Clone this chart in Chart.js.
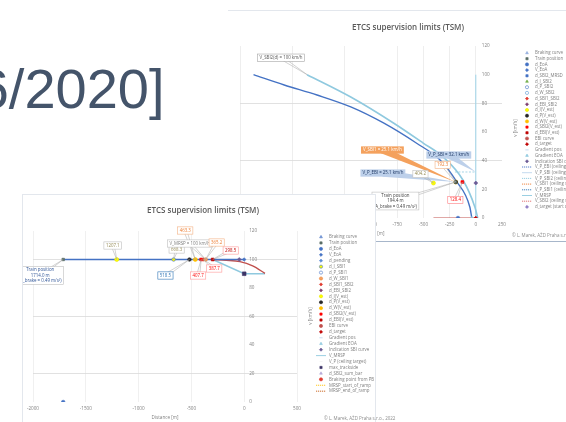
<!DOCTYPE html>
<html>
<head>
<meta charset="utf-8">
<title>ETCS supervision limits (TSM)</title>
<script src="https://cdn.jsdelivr.net/npm/chart.js"></script>
<style>
  html, body { margin: 0; padding: 0; }
  body { width: 566px; height: 422px; overflow: hidden; position: relative; background: #fff; font-family: "Liberation Sans", Arial, sans-serif; }
  #heading { position: absolute; left: -69px; top: 61px; font-size: 56px; line-height: 56px; color: #44546A; white-space: nowrap; }
  .panel { position: absolute; background: #fff; }
  #backPanel { left: 228px; top: 10px; width: 380px; height: 230px; border-top: 1px solid #E3E7ED; border-bottom: 1px solid #A7B6CA; }
  #frontPanel { left: 22px; top: 194px; width: 352px; height: 230px; border: 1px solid #E3E7ED; }
  .copy { position: absolute; font: 4.5px "Open Sans", sans-serif; color: #8C8C8C; white-space: nowrap; }
</style>
</head>
<body>
<div id="heading">[06/2020]</div>
<div class="panel" id="backPanel"><canvas id="backChart"></canvas></div>
<div class="copy" style="left:512px;top:232px">© L. Marek, AŽD Praha s.r.o., 2022</div>
<div class="panel" id="frontPanel"><canvas id="frontChart"></canvas></div>
<div class="copy" style="left:324px;top:415px">© L. Marek, AŽD Praha s.r.o., 2022</div>
<script>
// ---------- front chart: train at 1714 m before EoA, 100 km/h ----------
const frontProfileX = [-1714.0, 0];
const frontProfileV = [100, 100];
const frontEbiX = [-298.5, -170, -40, 80, 197];
const frontEbiV = [100, 99.5, 98.5, 95.5, 90.3];
const frontSbiX = [-298.5, 0, 197];
const frontSbiV = [100, 90, 90];
const frontMarkSeries = ['Train position', 'd_EoA', 'd_I(V_est)', 'd_I_SBI1', 'd_P(V_est)', 'd_W(V_est)', 'd_SBI2(V_est)', 'd_SBI1_SBI2', 'd_W_SBI1', 'd_EBI(V_est)', 'Indication SBI curve', 'V_EoA', 'max_trackside'];
const frontMarkX = [-1714.0, -1714.0, -1207.1, -668.3, -518.5, -463.3, -407.7, -387.7, -365.2, -298.5, -47, 0, 0];
const frontMarkV = [100, 0, 100, 100, 100, 100, 100, 100, 100, 100, 100, 100, 90];
const frontLegend = ['Braking curve', 'Train position', 'd_EoA', 'V_EoA', 'd_pending', 'd_I_SBI1', 'd_P_SBI1', 'd_W_SBI1', 'd_SBI1_SBI2', 'd_EBI_SBI2', 'd_I(V_est)', 'd_P(V_est)', 'd_W(V_est)', 'd_SBI2(V_est)', 'd_EBI(V_est)', 'EBI curve', 'd_target', 'Gradient pos', 'Gradient EOA', 'Indication SBI curve', 'V_MRSP', 'V_P (ceiling target)', 'max_trackside', 'd_SBI2_sum_bar', 'Braking point from PB', 'MRSP_start_of_ramp', 'MRSP_end_of_ramp'];

// ---------- back chart: train at 194.4 m before EoA, braking ----------
const backEbiX = [-2121, -1828, -1515, -1193, -881, -568, -341, -189, -57, -38];
const backEbiV = [100, 92.8, 85.8, 77.5, 66.3, 52.3, 40.5, 26.0, 7.7, 0];
const backSbiX = [-1610, -1193, -786, -502, -313, -123, -9, 19];
const backSbiV = [100, 84.4, 66.3, 52.3, 42.6, 26.5, 7.7, 0];
const backMrspX = [0, 0];
const backMrspV = [0, 100];
const backPermX = [-199, 0];
const backPermV = [32.1, 32.1];
const backTargetX = [-404.2, 0];
const backTargetV = [0, 0];
const backMarkSeries = ['d_I(V_est)', 'Train position', 'd_P(V_est)', 'd_W(V_est)', 'd_SBI2(V_est)', 'Indication SBI curve', 'd_EoA', 'Gradient EOA', 'd_target'];
const backMarkX = [-404.2, -194.4, -190, -192.3, -128.4, 0, -170, -38, 0];
const backMarkV = [24.4, 25.1, 25.1, 25.1, 25.1, 24.4, 0, 0, 0];
const backLegend = ['Braking curve', 'Train position', 'd_EoA', 'V_EoA', 'd_SBI2_MRSD', 'd_I_SBI2', 'd_P_SBI2', 'd_W_SBI2', 'd_SBI1_SBI2', 'd_EBI_SBI2', 'd_I(V_est)', 'd_P(V_est)', 'd_W(V_est)', 'd_SBI2(V_est)', 'd_EBI(V_est)', 'EBI curve', 'd_target', 'Gradient pos', 'Gradient EOA', 'Indication SBI curve', 'V_P_EBI (ceiling speed)', 'V_P_SBI (ceiling speed)', 'V_P_SBI2 (ceiling speed)', 'V_SBI1 (ceiling speed)', 'V_P_SBI1 (ceiling speed)', 'V_MRSP', 'V_SBI2 (ceiling speed)', 'd_target (start of ramp)'];

// marker / line look for every series name
const look = {
  'Braking curve': { pointStyle: 'triangle', color: '#8FAADC', r: 1.2 },
  'Train position': { pointStyle: 'rect', color: '#5B6E66', r: 1.8 },
  'd_EoA': { pointStyle: 'circle', color: '#4472C4', r: 1.8 },
  'V_EoA': { pointStyle: 'rectRot', color: '#4472C4', r: 1.8 },
  'd_pending': { pointStyle: 'rectRot', color: '#5B8BD6', r: 1.6 },
  'd_SBI2_MRSD': { pointStyle: 'rect', color: '#4472C4', r: 1.6 },
  'd_I_SBI1': { pointStyle: 'circle', color: '#FFFF00', border: '#4472C4', r: 1.8 },
  'd_I_SBI2': { pointStyle: 'triangle', color: '#70AD47', r: 1.6 },
  'd_P_SBI1': { pointStyle: 'circle', color: '#fff', border: '#4472C4', r: 1.6 },
  'd_P_SBI2': { pointStyle: 'circle', color: '#fff', border: '#4472C4', r: 1.6 },
  'd_W_SBI1': { pointStyle: 'circle', color: '#F4A460', border: '#ED7D31', r: 1.8 },
  'd_W_SBI2': { pointStyle: 'circle', color: '#fff', border: '#5B9BD5', r: 1.6 },
  'd_SBI1_SBI2': { pointStyle: 'rectRot', color: '#E03C31', r: 1.8 },
  'd_EBI_SBI2': { pointStyle: 'rectRot', color: '#7F3F6F', r: 1.6 },
  'd_I(V_est)': { pointStyle: 'circle', color: '#FFFF00', border: '#E6E600', r: 2 },
  'd_P(V_est)': { pointStyle: 'circle', color: '#262626', r: 1.8 },
  'd_W(V_est)': { pointStyle: 'circle', color: '#FFC000', r: 2 },
  'd_SBI2(V_est)': { pointStyle: 'rect', color: '#FF0000', r: 2 },
  'd_EBI(V_est)': { pointStyle: 'rect', color: '#C00000', r: 2 },
  'EBI curve': { pointStyle: 'circle', color: '#C0504D', r: 0.6 },
  'd_target': { pointStyle: 'rectRot', color: '#C00000', r: 1.8 },
  'Gradient pos': { pointStyle: 'line', color: '#9DC3E6', r: 1.8 },
  'Gradient EOA': { pointStyle: 'triangle', color: '#8FC9DF', r: 1.6 },
  'Indication SBI curve': { pointStyle: 'rectRot', color: '#6B5B95', r: 2 },
  'V_MRSP': { line: '#8FC9DF' },
  'V_P (ceiling target)': { pointStyle: 'line', color: '#F2F2F2', r: 1.8 },
  'max_trackside': { pointStyle: 'rect', color: '#3D3466', r: 2.6 },
  'd_SBI2_sum_bar': { pointStyle: 'triangle', color: '#B4A7D6', r: 1.6 },
  'Braking point from PB': { pointStyle: 'circle', color: '#E03C31', r: 0.9 },
  'MRSP_start_of_ramp': { line: '#FFC000', dash: true },
  'MRSP_end_of_ramp': { line: '#C55A11', dash: true },
  'V_P_EBI (ceiling speed)': { line: '#4472C4', dash: true },
  'V_P_SBI (ceiling speed)': { line: '#BDD7EE' },
  'V_P_SBI2 (ceiling speed)': { line: '#8FC9DF', dash: true },
  'V_SBI1 (ceiling speed)': { line: '#ED7D31', dash: true },
  'V_P_SBI1 (ceiling speed)': { line: '#2E75B6', dash: true },
  'V_SBI2 (ceiling speed)': { line: '#E06666', dash: true },
  'd_target (start of ramp)': { pointStyle: 'rectRot', color: '#8E7CC3', r: 1.6 }
};

const points = (xs, vs) => xs.map((x, i) => ({ x, y: vs[i] }));

// one dataset per legend row; lines are passed in by name
function buildDatasets(names, markSeries, markX, markV, lines) {
  return names.map(name => {
    const lk = look[name] || { pointStyle: 'circle', color: '#A6A6A6', r: 1.2 };
    if (lines[name]) {
      const ln = lines[name];
      return {
        label: name, data: points(ln.x, ln.v), showLine: true, pointRadius: 0,
        borderColor: ln.color, borderWidth: ln.width || 1.4, borderDash: ln.dash || [],
        cubicInterpolationMode: ln.smooth ? 'monotone' : 'default',
        legendLine: !!lk.line, legendColor: lk.line || ln.color, legendDash: lk.dash,
        pointStyle: lk.pointStyle, backgroundColor: lk.color, order: 10
      };
    }
    const data = [];
    markSeries.forEach((s, i) => { if (s === name) data.push({ x: markX[i], y: markV[i] }); });
    return {
      label: name, data, showLine: false, pointStyle: lk.pointStyle || 'circle',
      pointRadius: lk.r || 1.6, backgroundColor: lk.color, borderColor: lk.border || lk.color,
      borderWidth: 0.6, legendLine: !!lk.line, legendColor: lk.line, legendDash: lk.dash, order: 1
    };
  });
}

const gray = '#7F7F7F';

// Excel-like legend column at a fixed spot inside the canvas
function legendPlugin(o) {
  return {
    id: 'sideLegend',
    afterDraw(chart) {
      const ctx = chart.ctx;
      ctx.save();
      ctx.font = o.size + 'px "Open Sans"';
      ctx.textBaseline = 'middle';
      ctx.textAlign = 'left';
      chart.data.datasets.forEach((ds, i) => {
        const y = o.top + i * o.row;
        if (ds.legendLine) {
          ctx.strokeStyle = ds.legendColor;
          ctx.lineWidth = 0.9;
          ctx.setLineDash(ds.legendDash ? [1.2, 0.8] : []);
          ctx.beginPath(); ctx.moveTo(o.x - 5, y); ctx.lineTo(o.x + 5, y); ctx.stroke();
          ctx.setLineDash([]);
        } else {
          ctx.fillStyle = ds.backgroundColor;
          ctx.strokeStyle = ds.borderColor || ds.backgroundColor;
          ctx.lineWidth = 0.6;
          Chart.helpers.drawPoint(ctx, { pointStyle: ds.pointStyle || 'circle', radius: 1.6, rotation: 0, borderWidth: 0.6 }, o.x, y);
        }
        ctx.fillStyle = gray;
        ctx.fillText(ds.label, o.x + o.gap, y);
      });
      ctx.restore();
    }
  };
}

// speed labels next to the x = 0 line, plus the rotated axis title
function zeroTicksPlugin(o) {
  return {
    id: 'zeroTicks',
    afterDraw(chart) {
      const { ctx, scales: { x, y } } = chart;
      const x0 = x.getPixelForValue(0) + o.gap;
      ctx.save();
      ctx.font = '4.6px "Open Sans"';
      ctx.fillStyle = gray;
      ctx.textBaseline = 'middle';
      ctx.textAlign = 'left';
      y.ticks.forEach(t => ctx.fillText(String(t.value), x0, y.getPixelForValue(t.value)));
      ctx.translate(o.titleX, o.titleY);
      ctx.rotate(-Math.PI / 2);
      ctx.textAlign = 'center';
      ctx.fillText('v [km/h]', 0, 0);
      ctx.restore();
    }
  };
}

// data callouts: box + leader (thin V) or filled wedge pointing at a mark
function calloutPlugin(items) {
  return {
    id: 'callouts',
    afterDatasetsDraw(chart) {
      const { ctx, scales: { x, y } } = chart;
      const size = 4.4, lh = size * 1.2;
      ctx.save();
      ctx.font = size + 'px "Open Sans"';
      ctx.textAlign = 'center';
      ctx.textBaseline = 'middle';
      items.forEach(c => {
        const ds = chart.data.datasets.find(d => d.label === c.series);
        const p = ds.data[c.i || 0];
        const px = x.getPixelForValue(p.x), py = y.getPixelForValue(p.y);
        const lines = [].concat(c.text(p));
        const w = Math.max(...lines.map(l => ctx.measureText(l).width)) + 4;
        const h = lines.length * lh + 2;
        const bx = px + c.dx, by = py + c.dy;
        const len = Math.hypot(px - bx, py - by) || 1;
        const nx = -(py - by) / len, ny = (px - bx) / len;
        const s = c.wedge ? h / 2 : 1.6;
        ctx.beginPath();
        ctx.moveTo(bx + nx * s, by + ny * s);
        ctx.lineTo(px, py);
        ctx.lineTo(bx - nx * s, by - ny * s);
        if (c.wedge) { ctx.fillStyle = c.fill; ctx.fill(); }
        else { ctx.strokeStyle = '#A6A6A6'; ctx.lineWidth = 0.5; ctx.stroke(); }
        ctx.fillStyle = c.wedge ? c.fill : '#FFFFFF';
        ctx.fillRect(bx - w / 2, by - h / 2, w, h);
        if (c.border) {
          ctx.strokeStyle = c.border; ctx.lineWidth = 0.6;
          ctx.strokeRect(bx - w / 2, by - h / 2, w, h);
        }
        ctx.fillStyle = c.color;
        lines.forEach((l, k) => ctx.fillText(l, bx, by - h / 2 + 1 + lh * (k + 0.5)));
      });
      ctx.restore();
    }
  };
}

const dist = p => Math.abs(p.x).toFixed(1);

function chartOptions(cfg) {
  return {
    responsive: true, maintainAspectRatio: false, animation: false,
    layout: { padding: { left: cfg.padLeft, right: cfg.padRight, top: 0, bottom: 0 } },
    plugins: {
      legend: { display: false },
      tooltip: { enabled: false },
      title: {
        display: true, text: 'ETCS supervision limits (TSM)', color: '#595959',
        font: { family: 'Open Sans', size: 8, weight: '600' },
        padding: { top: cfg.titleTop, bottom: cfg.titleBottom }
      }
    },
    scales: {
      x: {
        type: 'linear', min: cfg.xMin, max: cfg.xMax,
        ticks: { stepSize: cfg.xStep, color: gray, font: { family: 'Open Sans', size: 4.6 }, padding: 4, maxRotation: 0, callback: v => String(v) },
        grid: { color: cfg.xGrid, lineWidth: 0.7, drawTicks: false },
        border: { display: false },
        title: { display: true, text: 'Distance [m]', color: gray, font: { family: 'Open Sans', size: 4.6 }, padding: { top: 0, bottom: 5 } },
        afterFit: s => { s.height = 23; }
      },
      y: {
        position: 'right', min: 0, max: 120,
        ticks: { stepSize: 20, display: false },
        grid: { color: c => cfg.yGrid.includes(c.tick.value) ? '#D9D9D9' : 'rgba(0,0,0,0)', lineWidth: 0.8, drawTicks: false },
        border: { display: false },
        afterFit: s => { s.width = cfg.yWidth; }
      }
    }
  };
}

// back chart
new Chart(document.getElementById('backChart'), {
  type: 'scatter',
  data: {
    datasets: buildDatasets(backLegend, backMarkSeries, backMarkX, backMarkV, {
      'V_P_SBI1 (ceiling speed)': { x: backEbiX, v: backEbiV, color: '#4472C4', width: 1.4, smooth: true },
      'V_P_SBI (ceiling speed)': { x: backSbiX, v: backSbiV, color: '#8FC9DF', width: 1.6, smooth: true },
      'V_MRSP': { x: backMrspX, v: backMrspV, color: '#9DD3E8', width: 1 },
      'V_P_SBI2 (ceiling speed)': { x: backPermX, v: backPermV, color: '#8FC9DF', width: 0.8, dash: [2, 1.5] },
      'V_SBI2 (ceiling speed)': { x: backTargetX, v: backTargetV, color: '#C0504D', width: 1 }
    })
  },
  options: chartOptions({
    padLeft: 12, padRight: 32, yWidth: 74, titleTop: 12, titleBottom: 13.4,
    xMin: -2250, xMax: 250, xStep: 250,
    xGrid: c => [-2250, -1750, -1250, -750, -500, -250, 0].includes(c.tick.value) ? '#E6E6E6' : 'rgba(0,0,0,0)',
    yGrid: [40, 80]
  }),
  plugins: [
    legendPlugin({ x: 299, top: 42, row: 5.7, gap: 8, size: 4.4 }),
    zeroTicksPlugin({ gap: 6, titleX: 288, titleY: 117 }),
    calloutPlugin([
      { series: 'V_P_SBI (ceiling speed)', dx: -26, dy: -17, text: p => `V_SBI2(d) = ${p.y} km/h`, color: '#595959', border: '#A6A6A6' },
      { series: 'Train position', dx: -73, dy: -32, wedge: true, fill: '#F4A15D', text: p => `V_SBI1 = ${p.y} km/h`, color: '#FFFFFF' },
      { series: 'V_P_SBI2 (ceiling speed)', i: 1, dx: -27, dy: -17, wedge: true, fill: '#BDD0EA', text: p => `V_P_SBI = ${p.y} km/h`, color: '#1F3864' },
      { series: 'd_W(V_est)', dx: -13, dy: -17, text: dist, color: '#ED7D31', border: '#F4B183' },
      { series: 'd_P(V_est)', dx: -73, dy: -9, wedge: true, fill: '#BDD0EA', text: p => `V_P_EBI = ${p.y} km/h`, color: '#1F3864' },
      { series: 'd_I(V_est)', dx: -13, dy: -9, text: dist, color: '#948A54', border: '#BFBFBF' },
      { series: 'Train position', dx: -60, dy: 19, text: p => ['Train position', `${dist(p)} m`, '(A_brake = 0.49 m/s²)'], color: '#404040', border: '#BFBFBF' },
      { series: 'd_SBI2(V_est)', dx: -7, dy: 18, text: dist, color: '#FF0000', border: '#FF7C80' }
    ])
  ]
});

// front chart
new Chart(document.getElementById('frontChart'), {
  type: 'scatter',
  data: {
    datasets: buildDatasets(frontLegend, frontMarkSeries, frontMarkX, frontMarkV, {
      'Braking curve': { x: frontProfileX, v: frontProfileV, color: '#4472C4', width: 1.4 },
      'EBI curve': { x: frontEbiX, v: frontEbiV, color: '#C0504D', width: 1.4, smooth: true },
      'V_MRSP': { x: frontSbiX, v: frontSbiV, color: '#8FC9DF', width: 1.4 }
    })
  },
  options: chartOptions({
    padLeft: 10, padRight: 2, yWidth: 76, titleTop: 11, titleBottom: 15.4,
    xMin: -2000, xMax: 500, xStep: 500,
    xGrid: () => '#E9E9E9',
    yGrid: [20, 60, 100]
  }),
  plugins: [
    legendPlugin({ x: 298, top: 42, row: 5.93, gap: 8, size: 4.4 }),
    zeroTicksPlugin({ gap: 5, titleX: 288, titleY: 121 }),
    calloutPlugin([
      { series: 'Train position', dx: -23, dy: 16, text: p => ['Train position', `${dist(p)} m`, '(A_brake = 0.49 m/s²)'], color: '#2F5597', border: '#BFBFBF' },
      { series: 'd_I(V_est)', dx: -4, dy: -14, text: dist, color: '#948A54', border: '#BFBFBF' },
      { series: 'd_I_SBI1', dx: 3, dy: -10, text: dist, color: '#948A54', border: '#BFBFBF' },
      { series: 'd_P(V_est)', dx: -24, dy: 16, text: dist, color: '#2E75B6', border: '#2E75B6' },
      { series: 'd_W(V_est)', dx: -10, dy: -29, text: dist, color: '#ED7D31', border: '#F4B183' },
      { series: 'd_W_SBI1', dx: -16, dy: -16, text: p => `V_MRSP = ${p.y} km/h`, color: '#7F7F7F', border: '#BFBFBF' },
      { series: 'd_SBI2(V_est)', dx: -3, dy: 16, text: dist, color: '#FF0000', border: '#FF9999' },
      { series: 'd_SBI1_SBI2', dx: 11, dy: 9, text: dist, color: '#FF0000', border: '#FF9999' },
      { series: 'd_W_SBI1', dx: 11, dy: -17, text: dist, color: '#ED7D31', border: '#F4B183' },
      { series: 'd_EBI(V_est)', dx: 18, dy: -9, text: dist, color: '#C00000', border: '#FF9999' }
    ])
  ]
});
</script>
</body>
</html>
